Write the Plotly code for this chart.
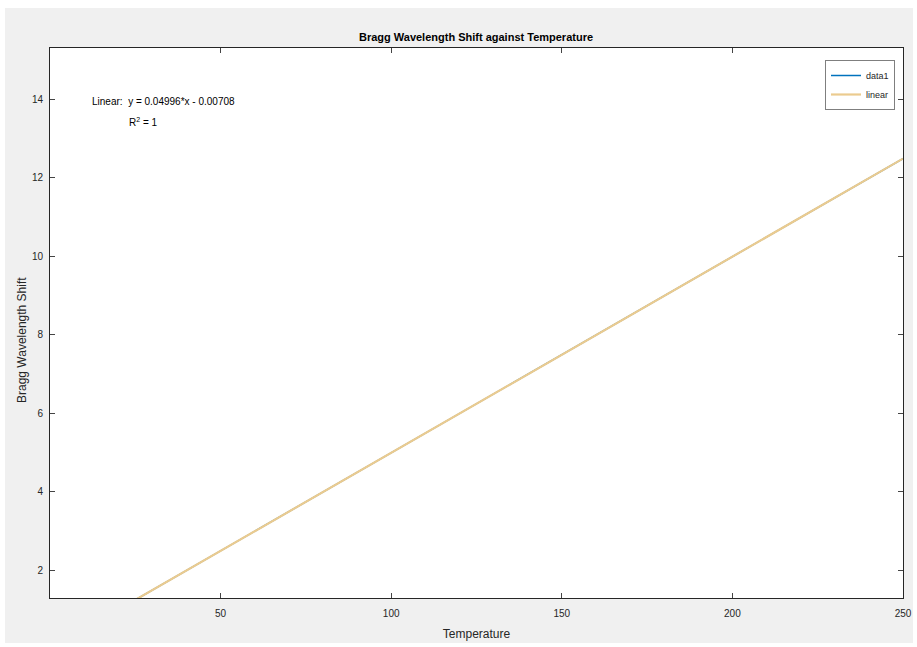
import plotly.graph_objects as go

# Data
temperature = [25, 50, 75, 100, 125, 150, 175, 200, 225, 250]
shift = [1.242, 2.491, 3.740, 4.989, 6.238, 7.487, 8.736, 9.985, 11.234, 12.483]
fit_x = [0, 250]
fit_y = [-0.00708, 12.48292]
x_ticks = [50, 100, 150, 200, 250]
y_ticks = [2, 4, 6, 8, 10, 12, 14]

W, H = 917, 647
L, R, T, B = 50, 14, 48, 49
pw, ph = W - L - R, H - T - B

def px(x):
    return (x - L) / pw

def py(y):
    return (H - B - y) / ph

fig = go.Figure()
fig.add_trace(go.Scatter(x=temperature, y=shift, mode="lines", name="data1",
                         line=dict(color="#0072BD", width=1.5)))
fig.add_trace(go.Scatter(x=fit_x, y=fit_y, mode="lines", name="linear",
                         line=dict(color="#EBCB8F", width=2.2)))

font = dict(family="Liberation Sans, Arial, sans-serif", size=10, color="#262626")

fig.update_layout(
    template="none",
    width=W, height=H,
    margin=dict(l=L, r=R, t=T, b=B, autoexpand=False),
    paper_bgcolor="#f0f0f0",
    plot_bgcolor="white",
    font=font,
    title=dict(text="<b>Bragg Wavelength Shift against Temperature</b>",
               xref="container", x=476 / W, xanchor="center",
               yref="container", y=1 - 37 / H, yanchor="middle",
               font=dict(size=11, color="#000000")),
    xaxis=dict(range=[0, 250], tickvals=x_ticks, ticks="inside", ticklen=5,
               showline=True, mirror="ticks", linecolor="#262626", linewidth=1,
               showgrid=False, zeroline=False, ticklabelstandoff=6, automargin=False,
               title=dict(text="Temperature", standoff=11, font=dict(size=12))),
    yaxis=dict(range=[1.29, 15.3], tickvals=y_ticks, ticks="inside", ticklen=5,
               showline=True, mirror="ticks", linecolor="#262626", linewidth=1,
               showgrid=False, zeroline=False, ticklabelstandoff=4, automargin=False),
    legend=dict(x=px(895), y=py(60), xanchor="right", yanchor="top",
                bgcolor="white", bordercolor="#7f7f7f", borderwidth=1,
                font=dict(size=9), itemwidth=30, tracegroupgap=0),
    showlegend=True,
)

# thin white frame around the grey figure area
white = dict(fillcolor="white", line=dict(width=0), layer="below")
fig.add_shape(type="rect", xref="paper", yref="paper",
              x0=px(0), x1=px(W), y0=py(0), y1=py(8), **white)
fig.add_shape(type="rect", xref="paper", yref="paper",
              x0=px(0), x1=px(5), y0=py(H), y1=py(0), **white)
fig.add_shape(type="rect", xref="paper", yref="paper",
              x0=px(913), x1=px(W), y0=py(H), y1=py(0), **white)
fig.add_shape(type="rect", xref="paper", yref="paper",
              x0=px(0), x1=px(W), y0=py(H), y1=py(643), **white)

# y-axis title (placed as in the reference, slightly below the axis centre)
fig.add_annotation(text="Bragg Wavelength Shift", xref="paper", yref="paper",
                   x=px(22), y=py(340), xanchor="center", yanchor="middle",
                   textangle=-90, showarrow=False,
                   font=dict(size=12, color="#262626"))

fig.add_annotation(text="Linear:  y = 0.04996*x - 0.00708", xref="paper", yref="paper",
                   x=px(90), y=py(102), xanchor="left", yanchor="middle",
                   showarrow=False, font=dict(size=10, color="#000000"))
fig.add_annotation(text="R<sup>2</sup> = 1", xref="paper", yref="paper",
                   x=px(127), y=py(122), xanchor="left", yanchor="middle",
                   showarrow=False, font=dict(size=10, color="#000000"))

post = """
document.documentElement.style.margin = '0';
document.body.style.margin = '0';
document.body.style.overflow = 'hidden';
"""

fig.write_html("out.html",
               config={"displayModeBar": False, "responsive": False},
               post_script=post)
